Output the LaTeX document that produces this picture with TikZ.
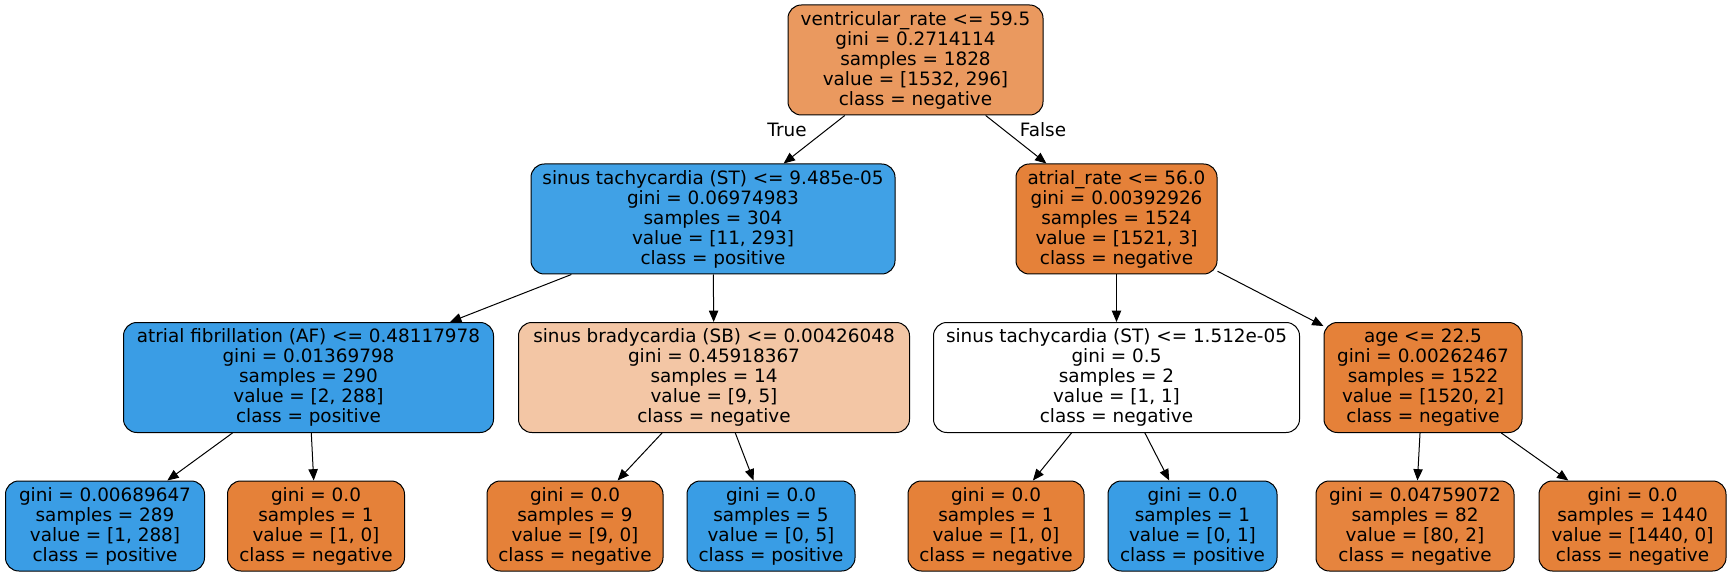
\documentclass[tikz,border=0pt]{standalone}
\usepackage{fontspec}
\setmainfont{DejaVu Sans}
\usetikzlibrary{arrows.meta}
\definecolor{cRoot}{HTML}{EA995F}
\definecolor{cNeg}{HTML}{E58139}
\definecolor{cPos}{HTML}{399DE5}
\definecolor{cPosA}{HTML}{40A1E6}
\definecolor{cPosB}{HTML}{3A9DE5}
\definecolor{cLight}{HTML}{F3C6A5}
\definecolor{cNegB}{HTML}{E6843E}
\tikzset{
  box/.style={draw=black, line width=0.75pt, rounded corners=10pt, inner sep=0pt,
    align=center, font=\fontsize{13.8}{15}\selectfont, minimum height=82.5pt},
  leaf/.style={box, minimum height=67.5pt},
  edge/.style={line width=0.75pt, -{Triangle[length=8.5pt, width=7pt]}},
  lbl/.style={font=\fontsize{13.8}{15}\selectfont, inner sep=0pt}
}
\begin{document}
\begin{tikzpicture}[x=0.75pt, y=-0.75pt]
\useasboundingbox (0,0) rectangle (1731,577);
\node[box, fill=cRoot, minimum width=191.25pt] (root) at (915.5,60) {ventricular\_rate <= 59.5\\gini = 0.2714114\\samples = 1828\\value = [1532, 296]\\class = negative};
\node[box, fill=cPosA, minimum width=273pt] (n1) at (713,219) {sinus tachycardia (ST) <= 9.485e-05\\gini = 0.06974983\\samples = 304\\value = [11, 293]\\class = positive};
\node[box, fill=cNeg, minimum width=150.75pt] (n2) at (1116.5,219) {atrial\_rate <= 56.0\\gini = 0.00392926\\samples = 1524\\value = [1521, 3]\\class = negative};
\node[box, fill=cPosB, minimum width=277.5pt] (n3) at (308.5,377.5) {atrial fibrillation (AF) <= 0.48117978\\gini = 0.01369798\\samples = 290\\value = [2, 288]\\class = positive};
\node[box, fill=cLight, minimum width=293.25pt] (n4) at (714,377.5) {sinus bradycardia (SB) <= 0.00426048\\gini = 0.45918367\\samples = 14\\value = [9, 5]\\class = negative};
\node[box, fill=white, minimum width=274.5pt] (n5) at (1116.5,377.5) {sinus tachycardia (ST) <= 1.512e-05\\gini = 0.5\\samples = 2\\value = [1, 1]\\class = negative};
\node[box, fill=cNeg, minimum width=148.5pt] (n6) at (1423,377.5) {age <= 22.5\\gini = 0.00262467\\samples = 1522\\value = [1520, 2]\\class = negative};
\node[leaf, fill=cPosB, minimum width=149.25pt] (n7) at (105,526) {gini = 0.00689647\\samples = 289\\value = [1, 288]\\class = positive};
\node[leaf, fill=cNeg, minimum width=132.75pt] (n8) at (316,526) {gini = 0.0\\samples = 1\\value = [1, 0]\\class = negative};
\node[leaf, fill=cNeg, minimum width=132pt] (n9) at (575,526) {gini = 0.0\\samples = 9\\value = [9, 0]\\class = negative};
\node[leaf, fill=cPos, minimum width=126pt] (n10) at (771,526) {gini = 0.0\\samples = 5\\value = [0, 5]\\class = positive};
\node[leaf, fill=cNeg, minimum width=132pt] (n11) at (996,526) {gini = 0.0\\samples = 1\\value = [1, 0]\\class = negative};
\node[leaf, fill=cPos, minimum width=126.75pt] (n12) at (1192.5,526) {gini = 0.0\\samples = 1\\value = [0, 1]\\class = positive};
\node[leaf, fill=cNegB, minimum width=148.5pt] (n13) at (1415,526) {gini = 0.04759072\\samples = 82\\value = [80, 2]\\class = negative};
\node[leaf, fill=cNeg, minimum width=140.25pt] (n14) at (1632.5,526) {gini = 0.0\\samples = 1440\\value = [1440, 0]\\class = negative};
\draw[edge] (root) -- (n1);
\draw[edge] (root) -- (n2);
\draw[edge] (n1) -- (n3);
\draw[edge] (n1) -- (n4);
\draw[edge] (n2) -- (n5);
\draw[edge] (n2) -- (n6);
\draw[edge] (n3) -- (n7);
\draw[edge] (n3) -- (n8);
\draw[edge] (n4) -- (n9);
\draw[edge] (n4) -- (n10);
\draw[edge] (n5) -- (n11);
\draw[edge] (n5) -- (n12);
\draw[edge] (n6) -- (n13);
\draw[edge] (n6) -- (n14);
\node[lbl] (lblT) at (787,130) {True};
\node[lbl] (lblF) at (1043,130) {False};
\end{tikzpicture}
\end{document}
